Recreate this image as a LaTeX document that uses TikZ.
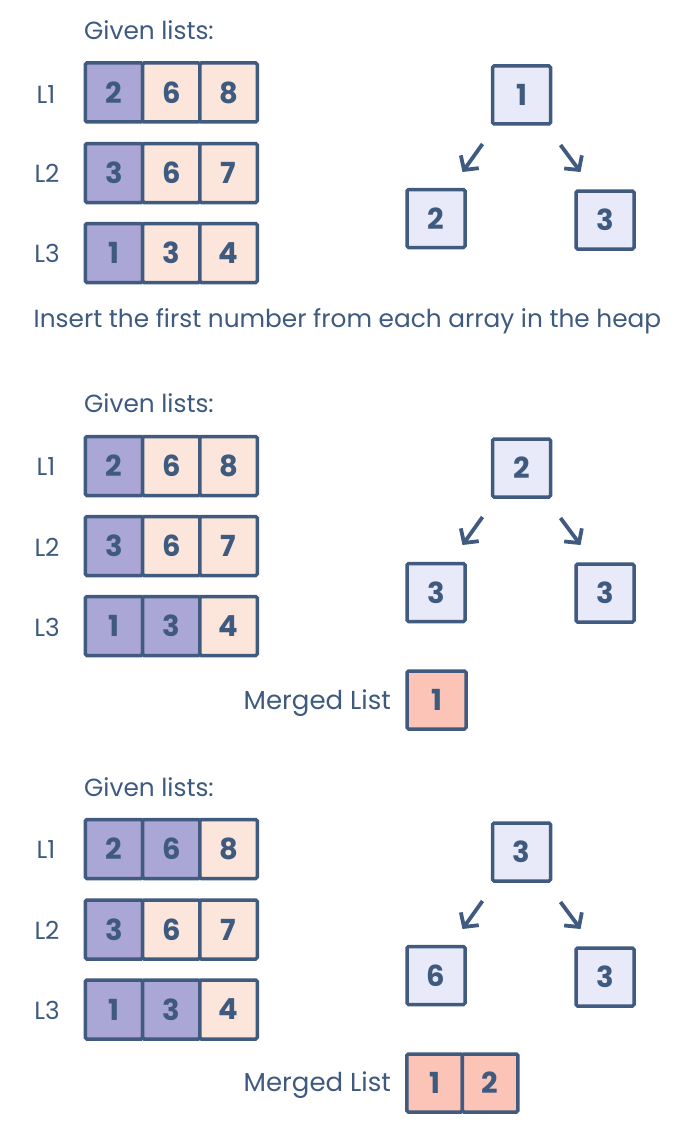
\documentclass[tikz,border=0pt]{standalone}
\usepackage{fontspec}
\setmainfont{Poppins}
\usetikzlibrary{arrows.meta}
\definecolor{edge}{HTML}{405A80}
\definecolor{ink}{HTML}{3F5A7F}
\definecolor{lav}{HTML}{AAA6D5}
\definecolor{peach}{HTML}{FCE5DB}
\definecolor{heapfill}{HTML}{E9EAF9}
\definecolor{merged}{HTML}{FBC4B6}
\tikzset{
  box/.style={draw=edge, line width=3.5pt, rounded corners=1.5pt, inner sep=0pt,
    minimum width=57.3pt, minimum height=59pt, text=ink, font=\fontsize{29}{29}\selectfont\bfseries},
  used/.style={box, fill=lav},
  rest/.style={box, fill=peach},
  heap/.style={box, fill=heapfill, minimum width=58pt, minimum height=58pt},
  mbox/.style={box, fill=merged, minimum width=55.5pt, minimum height=58pt},
  lbl/.style={text=ink, inner sep=0pt, font=\fontsize{24.8}{25}\selectfont},
  arr/.style={draw=edge, line width=3.8pt, -{Straight Barb[length=10pt,width=22pt]}},
}
\begin{document}
\begin{tikzpicture}[x=1pt,y=-1pt]
\useasboundingbox[fill=white] (0,0) rectangle (699,1137);
% ---------- section 1 ----------
\node[lbl, anchor=west] (a-given) at (84,30) {Given lists:};
\node[lbl] (a-l1) at (46,95) {L1};
\node[lbl] (a-l2) at (47,173) {L2};
\node[lbl] (a-l3) at (47,253) {L3};
\node[used] (a-11) at (114,92.5) {2};
\node[rest] (a-12) at (171.3,92.5) {6};
\node[rest] (a-13) at (228.6,92.5) {8};
\node[used] (a-21) at (114,173) {3};
\node[rest] (a-22) at (171.3,173) {6};
\node[rest] (a-23) at (228.6,173) {7};
\node[used] (a-31) at (114,253) {1};
\node[rest] (a-32) at (171.3,253) {3};
\node[rest] (a-33) at (228.6,253) {4};
\node[heap] (a-root) at (521.5,95) {1};
\node[heap] (a-left) at (436,218.5) {2};
\node[heap] (a-right) at (605,220) {3};
\coordinate (a-ls) at ([shift={(-39,49)}]a-root.center);
\coordinate (a-le) at ([shift={(-59,77)}]a-root.center);
\coordinate (a-rs) at ([shift={(39,50)}]a-root.center);
\coordinate (a-re) at ([shift={(59,77)}]a-root.center);
\draw[arr] (a-ls) -- (a-le);
\draw[arr] (a-rs) -- (a-re);
\node[lbl] (a-insert) at (347.5,321) {Insert the first number from each array in the heap};
% ---------- section 2 ----------
\begin{scope}[yshift=-374pt]
\node[lbl, anchor=west] (b-given) at (84,29) {Given lists:};
\node[lbl] (b-l1) at (46,93) {L1};
\node[lbl] (b-l2) at (47,173) {L2};
\node[lbl] (b-l3) at (47,253) {L3};
\node[used] (b-11) at (114,92) {2};
\node[rest] (b-12) at (171.3,92) {6};
\node[rest] (b-13) at (228.6,92) {8};
\node[used] (b-21) at (114,172) {3};
\node[rest] (b-22) at (171.3,172) {6};
\node[rest] (b-23) at (228.6,172) {7};
\node[used] (b-31) at (114,252) {1};
\node[used] (b-32) at (171.3,252) {3};
\node[rest] (b-33) at (228.6,252) {4};
\node[heap] (b-root) at (521.5,94) {2};
\node[heap] (b-left) at (436,218.5) {3};
\node[heap] (b-right) at (605,219) {3};
\coordinate (b-ls) at ([shift={(-39,49)}]b-root.center);
\coordinate (b-le) at ([shift={(-59,77)}]b-root.center);
\coordinate (b-rs) at ([shift={(39,50)}]b-root.center);
\coordinate (b-re) at ([shift={(59,77)}]b-root.center);
\draw[arr] (b-ls) -- (b-le);
\draw[arr] (b-rs) -- (b-re);
\node[lbl, anchor=east, font=\fontsize{26}{26}\selectfont] (b-merged) at (391,329) {Merged List};
\node[mbox, minimum width=59pt] (b-m1) at (436.5,326) {1};
\end{scope}
% ---------- section 3 ----------
\begin{scope}[yshift=-757pt]
\node[lbl, anchor=west] (c-given) at (84,30) {Given lists:};
\node[lbl] (c-l1) at (46,93) {L1};
\node[lbl] (c-l2) at (47,173) {L2};
\node[lbl] (c-l3) at (47,253) {L3};
\node[used] (c-11) at (114,92) {2};
\node[used] (c-12) at (171.3,92) {6};
\node[rest] (c-13) at (228.6,92) {8};
\node[used] (c-21) at (114,172.5) {3};
\node[rest] (c-22) at (171.3,172.5) {6};
\node[rest] (c-23) at (228.6,172.5) {7};
\node[used] (c-31) at (114,252.5) {1};
\node[used] (c-32) at (171.3,252.5) {3};
\node[rest] (c-33) at (228.6,252.5) {4};
\node[heap] (c-root) at (521.5,95) {3};
\node[heap] (c-left) at (436,218.5) {6};
\node[heap] (c-right) at (605,220) {3};
\coordinate (c-ls) at ([shift={(-39,49)}]c-root.center);
\coordinate (c-le) at ([shift={(-59,77)}]c-root.center);
\coordinate (c-rs) at ([shift={(39,50)}]c-root.center);
\coordinate (c-re) at ([shift={(59,77)}]c-root.center);
\draw[arr] (c-ls) -- (c-le);
\draw[arr] (c-rs) -- (c-re);
\node[lbl, anchor=east, font=\fontsize{26}{26}\selectfont] (c-merged) at (391,328) {Merged List};
\node[mbox] (c-m1) at (434.7,326) {1};
\node[mbox] (c-m2) at (490.2,326) {2};
\end{scope}
\end{tikzpicture}
\end{document}
